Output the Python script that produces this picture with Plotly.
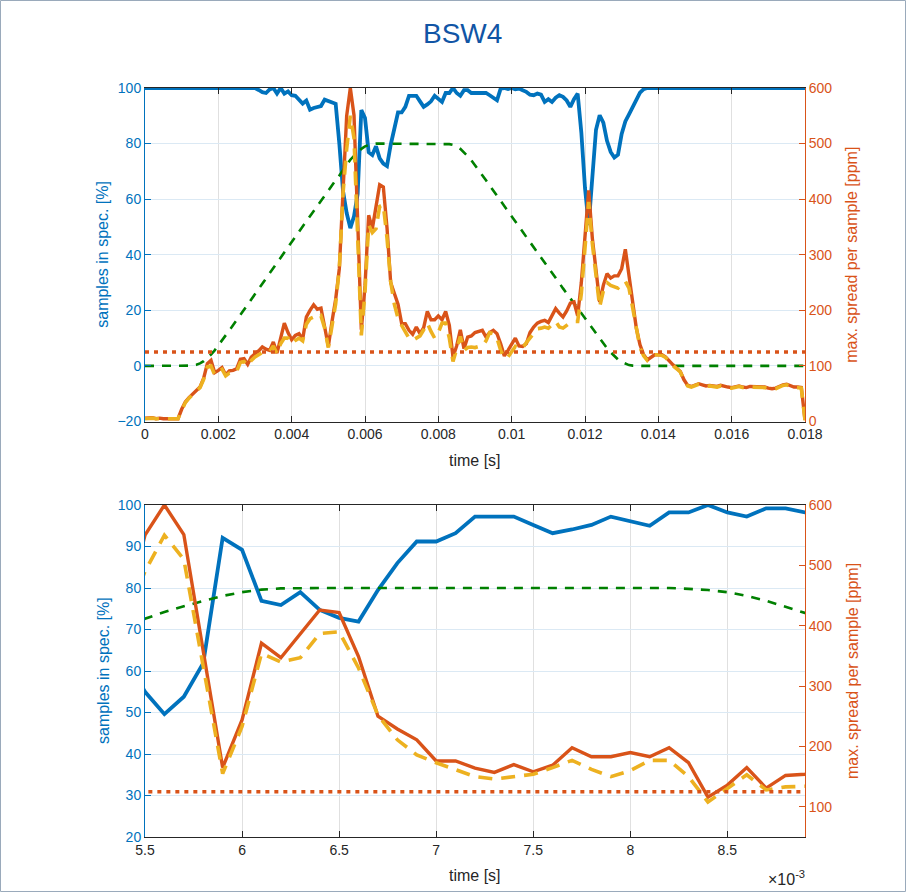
import plotly.graph_objects as go

# ---------------- data ----------------
time_ms = [round(i * 0.1, 1) for i in range(181)]          # 0.0 ... 18.0 ms sampling grid
time_s = [t / 1000 for t in time_ms]

samples_in_spec = [
    100, 100, 100, 100, 100, 100, 100, 100, 100, 100,            # 0.0-0.9
    100, 100, 100, 100, 100, 100, 100, 100, 100, 100,            # 1.0-1.9
    100, 100, 100, 100, 100, 100, 100, 100, 100, 100,            # 2.0-2.9
    100, 99.3, 98.5, 98.2, 99.5, 100, 98.0, 100, 98.0, 98.8,     # 3.0-3.9
    97.4, 97.2, 96.0, 94.4, 95.5, 92.2, 92.8, 93.0, 93.5, 95.8,  # 4.0-4.9
    95.4, 95.0, 94.3, 80.0, 63.0, 55.0, 49.6, 53.8, 61.9, 92.1,  # 5.0-5.9
    89.2, 76.9, 75.9, 79.0, 74.7, 72.8, 71.9, 79.5, 86.0, 91.2,  # 6.0-6.9
    91.2, 93.2, 97.2, 97.2, 97.2, 95.2, 93.2, 94.1, 95.2, 97.2,  # 7.0-7.9
    96.1, 95.0, 98.2, 98.2, 100, 98.2, 97.2, 99.2, 99.2, 98.2,   # 8.0-8.9
    98.2, 98.2, 98.0, 98.2, 97.4, 96.5, 95.6, 99.8, 100, 99.6,   # 9.0-9.9
    100, 99.5, 99.8, 99.2, 98.6, 97.6, 97.4, 98.0, 97.6, 95.0,   # 10.0-10.9
    96.0, 95.0, 96.5, 97.4, 96.8, 95.5, 93.2, 96.0, 98.0, 84.0,  # 11.0-11.9
    64.0, 50.7, 66.0, 85.0, 90.2, 87.5, 81.0, 77.0, 75.0, 76.0,  # 12.0-12.9
    83.5, 88.0, 90.5, 93.2, 96.2, 98.3, 99.6, 100, 100, 100,     # 13.0-13.9
    100, 100, 100, 100, 100, 100, 100, 100, 100, 100,            # 14.0-14.9
    100, 100, 100, 100, 100, 100, 100, 100, 100, 100,            # 15.0-15.9
    100, 100, 100, 100, 100, 100, 100, 100, 100, 100,            # 16.0-16.9
    100, 100, 100, 100, 100, 100, 100, 100, 100, 100,            # 17.0-17.9
    100,                                                         # 18.0
]

target_profile = [
    0, 0, 0, 0, 0, 0, 0, 0, 0, 0,                                # 0.0-0.9
    0, 0, 0, 0.1, 0.4, 0.9, 1.7, 2.8, 4.1, 5.6,                  # 1.0-1.9
    7.3, 9.1, 10.9, 12.8, 14.6, 16.5, 18.4, 20.3, 22.1, 24.0,    # 2.0-2.9
    25.9, 27.8, 29.6, 31.5, 33.4, 35.2, 37.1, 39.0, 40.8, 42.7,  # 3.0-3.9
    44.6, 46.4, 48.3, 50.2, 52.0, 53.9, 55.8, 57.6, 59.5, 61.4,  # 4.0-4.9
    63.2, 65.0, 66.8, 68.5, 70.5, 72.6, 74.2, 75.6, 76.9, 78.1,  # 5.0-5.9
    79.0, 79.6, 79.9, 80, 80, 80, 80, 80, 80, 80,                # 6.0-6.9
    80, 80, 80, 80, 80, 80, 80, 80, 80, 80,                      # 7.0-7.9
    80, 80, 80, 79.8, 79.5, 79.0, 78.1, 76.9, 75.5, 74.0,        # 8.0-8.9
    72.3, 70.5, 68.6, 66.8, 64.9, 63.1, 61.2, 59.4, 57.5, 55.7,  # 9.0-9.9
    53.8, 52.0, 50.1, 48.3, 46.4, 44.6, 42.7, 40.9, 39.0, 37.2,  # 10.0-10.9
    35.3, 33.5, 31.6, 29.8, 27.9, 26.1, 24.2, 22.4, 20.5, 18.7,  # 11.0-11.9
    16.8, 15.0, 13.2, 11.4, 9.7, 8.0, 6.4, 4.9, 3.5, 2.3,        # 12.0-12.9
    1.4, 0.7, 0.3, 0.1, 0, 0, 0, 0, 0, 0,                        # 13.0-13.9
    0, 0, 0, 0, 0, 0, 0, 0, 0, 0,                                # 14.0-14.9
    0, 0, 0, 0, 0, 0, 0, 0, 0, 0,                                # 15.0-15.9
    0, 0, 0, 0, 0, 0, 0, 0, 0, 0,                                # 16.0-16.9
    0, 0, 0, 0, 0, 0, 0, 0, 0, 0,                                # 17.0-17.9
    0,                                                           # 18.0
]

max_spread = [
    6, 7, 7, 5, 6, 5, 5, 5, 4, 5,                                # 0.0-0.9
    22, 35, 43, 50, 56, 62, 78, 104, 110, 88,                    # 1.0-1.9
    92, 97, 84, 91, 92, 95, 112, 113, 103, 116,                  # 2.0-2.9
    122, 127, 134, 130, 128, 143, 123, 150, 177, 160,            # 3.0-3.9
    147, 155, 158, 148, 188, 200, 210, 202, 204, 170,            # 4.0-4.9
    135, 180, 220, 275, 420, 550, 600, 551, 362, 165,            # 5.0-5.9
    244, 371, 347, 387, 426, 422, 349, 250, 229, 211,            # 6.0-6.9
    176, 176, 164, 157, 170, 158, 169, 198, 183, 183,            # 7.0-7.9
    190, 183, 198, 173, 116, 136, 165, 131, 152, 154,            # 8.0-8.9
    160, 162, 164, 152, 160, 164, 158, 140, 118, 128,            # 9.0-9.9
    140, 150, 136, 135, 140, 160, 170, 177, 180, 182,            # 10.0-10.9
    178, 190, 203, 195, 188, 199, 213, 215, 190, 250,            # 11.0-11.9
    330, 416, 330, 265, 215, 245, 266, 258, 262, 262,            # 12.0-12.9
    275, 310, 265, 215, 168, 138, 120, 111, 116, 120,            # 13.0-13.9
    120, 120, 116, 108, 102, 96, 90, 75, 65, 63,                 # 14.0-14.9
    65, 68, 66, 64, 65, 64, 63, 65, 63, 62,                      # 15.0-15.9
    61, 62, 64, 62, 61, 63, 63, 62, 63, 62,                      # 16.0-16.9
    60, 59, 60, 63, 66, 67, 65, 62, 62, 61,                      # 17.0-17.9
    3,                                                           # 18.0
]

max_spread_alt = [
    5, 6, 6, 5, 5, 5, 4, 4, 4, 5,                                # 0.0-0.9
    20, 34, 42, 49, 55, 61, 76, 98, 100, 84,                     # 1.0-1.9
    90, 94, 82, 87, 86, 90, 106, 108, 100, 110,                  # 2.0-2.9
    116, 120, 124, 125, 126, 136, 122, 140, 150, 150,            # 3.0-3.9
    140, 146, 150, 145, 175, 185, 188, 185, 190, 168,            # 4.0-4.9
    133, 172, 212, 275, 410, 490, 550, 510, 330, 155,            # 5.0-5.9
    233, 354, 340, 347, 387, 390, 330, 252, 211, 186,            # 6.0-6.9
    173, 162, 150, 146, 150, 154, 165, 177, 162, 150,            # 7.0-7.9
    160, 177, 177, 150, 108, 131, 153, 128, 133, 134,            # 8.0-8.9
    133, 135, 136, 145, 160, 158, 150, 128, 114, 116,            # 9.0-9.9
    125, 135, 130, 132, 142, 150, 160, 167, 168, 170,            # 10.0-10.9
    168, 175, 180, 170, 168, 173, 178, 180, 180, 230,            # 11.0-11.9
    320, 395, 320, 255, 206, 235, 250, 245, 242, 240,            # 12.0-12.9
    248, 252, 240, 205, 163, 133, 118, 110, 116, 120,            # 13.0-13.9
    120, 119, 115, 107, 100, 95, 89, 74, 64, 62,                 # 14.0-14.9
    64, 67, 65, 63, 64, 63, 62, 64, 62, 61,                      # 15.0-15.9
    60, 61, 63, 61, 60, 62, 62, 61, 62, 61,                      # 16.0-16.9
    59, 58, 59, 62, 65, 66, 64, 61, 61, 60,                      # 17.0-17.9
    2,                                                           # 18.0
]

spread_limit = 125            # ppm
limit_span_s = [0, 0.018]     # threshold drawn across the full time span

top_xtick_vals = [0, 0.002, 0.004, 0.006, 0.008, 0.01, 0.012, 0.014, 0.016, 0.018]
top_xtick_text = ["0", "0.002", "0.004", "0.006", "0.008", "0.01", "0.012", "0.014", "0.016", "0.018"]
bot_xtick_vals = [0.0055, 0.006, 0.0065, 0.007, 0.0075, 0.008, 0.0085]
bot_xtick_text = ["5.5", "6", "6.5", "7", "7.5", "8", "8.5"]

title_text = "BSW4"
xlabel = "time [s]"
ylabel_left = "samples in spec. [%]"
ylabel_right = "max. spread per sample [ppm]"

# ---------------- style ----------------
BLUE = "#0072BD"
ORANGE = "#D95319"
YELLOW = "#EDB120"
GREEN = "#008000"
DARK = "#262626"
FONT = "Liberation Sans, Arial, sans-serif"
W, H = 906, 892

def px_x(p):
    return p / W

def px_y(p):
    return 1 - p / H

fig = go.Figure()

for xa, ya_left, ya_right in [("x", "y", "y2"), ("x2", "y3", "y4")]:
    fig.add_trace(go.Scatter(x=time_s, y=samples_in_spec, xaxis=xa, yaxis=ya_left, mode="lines",
                             line=dict(color=BLUE, width=3.8), showlegend=False, hoverinfo="skip"))
    fig.add_trace(go.Scatter(x=time_s, y=target_profile, xaxis=xa, yaxis=ya_left, mode="lines",
                             line=dict(color=GREEN, width=2.6, dash="9px,8px"), showlegend=False, hoverinfo="skip"))
    fig.add_trace(go.Scatter(x=time_s, y=max_spread, xaxis=xa, yaxis=ya_right, mode="lines",
                             line=dict(color=ORANGE, width=3.4), showlegend=False, hoverinfo="skip"))
    fig.add_trace(go.Scatter(x=time_s, y=max_spread_alt, xaxis=xa, yaxis=ya_right, mode="lines",
                             line=dict(color=YELLOW, width=3.6, dash="14px,9px"), showlegend=False, hoverinfo="skip"))
    fig.add_trace(go.Scatter(x=limit_span_s, y=[spread_limit, spread_limit], xaxis=xa, yaxis=ya_right, mode="lines",
                             line=dict(color=ORANGE, width=3.6, dash="4px,5px"), showlegend=False, hoverinfo="skip"))

x_dom = [px_x(145), px_x(805)]
top_dom = [px_y(421.5), px_y(88)]
bot_dom = [px_y(837), px_y(505)]

xcommon = dict(showline=True, linecolor=DARK, linewidth=1, mirror="ticks", ticks="inside", ticklen=6,
               tickcolor=DARK, tickfont=dict(family=FONT, size=14, color=DARK), showgrid=True,
               gridcolor="#e0e0e0", gridwidth=1, zeroline=False, automargin=False)
yl_common = dict(showline=True, linecolor=BLUE, linewidth=1, ticks="inside", ticklen=6, tickcolor=BLUE,
                 tickfont=dict(family=FONT, size=14, color=BLUE), showgrid=True, gridcolor="#dbe9f4",
                 gridwidth=1, zeroline=False, side="left", automargin=False)
yr_common = dict(showline=True, linecolor=ORANGE, linewidth=1, ticks="inside", ticklen=6, tickcolor=ORANGE,
                 tickfont=dict(family=FONT, size=14, color=ORANGE), showgrid=False, zeroline=False,
                 side="right", automargin=False)

fig.update_layout(
    width=W, height=H, margin=dict(l=0, r=0, t=0, b=0, autoexpand=False),
    paper_bgcolor="white", plot_bgcolor="white",
    xaxis=dict(domain=x_dom, anchor="y", range=[0, 0.018], tickvals=top_xtick_vals, ticktext=top_xtick_text, **xcommon),
    yaxis=dict(domain=top_dom, anchor="x", range=[-20, 100], tickvals=[-20, 0, 20, 40, 60, 80, 100], **yl_common),
    yaxis2=dict(overlaying="y", anchor="x", range=[0, 600], tickvals=[0, 100, 200, 300, 400, 500, 600], **yr_common),
    xaxis2=dict(domain=x_dom, anchor="y3", range=[0.0055, 0.0089], tickvals=bot_xtick_vals, ticktext=bot_xtick_text, **xcommon),
    yaxis3=dict(domain=bot_dom, anchor="x2", range=[20, 100], tickvals=[20, 30, 40, 50, 60, 70, 80, 90, 100], **yl_common),
    yaxis4=dict(overlaying="y3", anchor="x2", range=[50, 600], tickvals=[100, 200, 300, 400, 500, 600], **yr_common),
    shapes=[dict(type="rect", xref="paper", yref="paper", x0=px_x(0.5), x1=px_x(905.5),
                 y0=px_y(891.5), y1=px_y(0.5), line=dict(color="#9aaabb", width=1), layer="above")],
)

ann = []
ann.append(dict(text=title_text, x=px_x(463), y=px_y(33), xref="paper", yref="paper", showarrow=False,
                font=dict(family=FONT, size=28, color="#1155A5"), xanchor="center", yanchor="middle"))
for cy_top, cy_lab in [((88 + 421.5) / 2, 460), ((505 + 837) / 2, 875)]:
    ann.append(dict(text=ylabel_left, x=px_x(103), y=px_y(cy_top), xref="paper", yref="paper", showarrow=False,
                    textangle=-90, font=dict(family=FONT, size=16, color=BLUE), xanchor="center", yanchor="middle"))
    ann.append(dict(text=ylabel_right, x=px_x(852), y=px_y(cy_top), xref="paper", yref="paper", showarrow=False,
                    textangle=-90, font=dict(family=FONT, size=16, color=ORANGE), xanchor="center", yanchor="middle"))
    ann.append(dict(text=xlabel, x=px_x(475), y=px_y(cy_lab), xref="paper", yref="paper", showarrow=False,
                    font=dict(family=FONT, size=16, color=DARK), xanchor="center", yanchor="middle"))
ann.append(dict(text="\u00d710<sup>-3</sup>", x=px_x(807), y=px_y(878), xref="paper", yref="paper", showarrow=False,
                font=dict(family=FONT, size=16, color=DARK), xanchor="right", yanchor="middle"))
fig.update_layout(annotations=ann)

fig.write_html("out.html")
